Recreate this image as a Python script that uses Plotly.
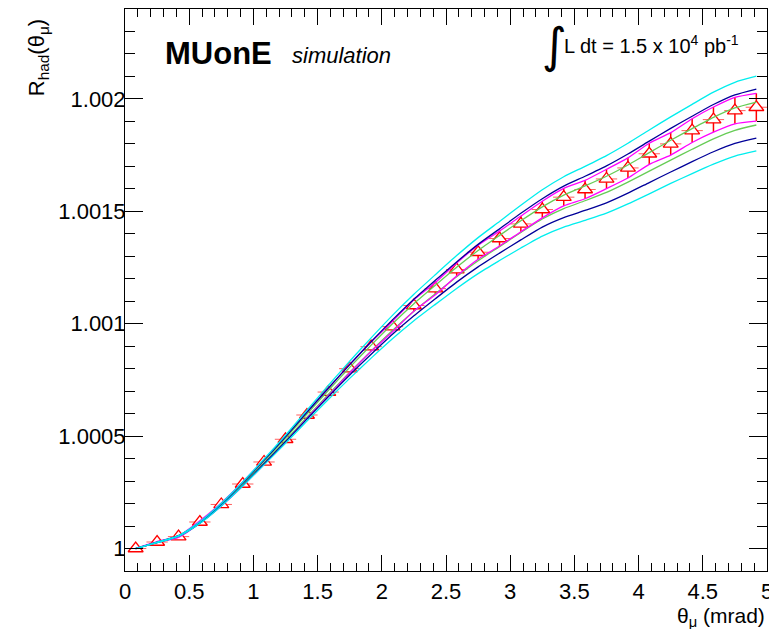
import plotly.graph_objects as go

UNIT = 1e-4  # curve/point values below are (R_had - 1) in units of 1e-4

# bin centres, theta_mu (mrad)
theta = [0.083, 0.250, 0.417, 0.583, 0.750, 0.917, 1.083, 1.250, 1.417, 1.583,
         1.750, 1.917, 2.083, 2.250, 2.417, 2.583, 2.750, 2.917, 3.083, 3.250,
         3.417, 3.583, 3.750, 3.917, 4.083, 4.250, 4.417, 4.583, 4.750, 4.917]
bin_half_width = [0.083] * 30

# pseudo-data points and their errors
data_val = [0.00, 0.29, 0.53, 1.18, 1.96, 2.87, 3.85, 4.86, 5.94, 6.96,
            8.00, 8.98, 9.87, 10.81, 11.56, 12.41, 13.18, 13.79, 14.44, 15.08,
            15.63, 15.97, 16.44, 16.93, 17.56, 18.00, 18.59, 19.08, 19.48, 19.63]
data_err = [0.01, 0.02, 0.03, 0.05, 0.07, 0.09, 0.11, 0.13, 0.15, 0.17,
            0.19, 0.21, 0.23, 0.25, 0.27, 0.29, 0.31, 0.33, 0.35, 0.37,
            0.39, 0.41, 0.43, 0.45, 0.47, 0.50, 0.53, 0.56, 0.59, 0.62]

# central fit curve and half widths of the bands
fit_center = [0.00, 0.27, 0.56, 1.15, 1.95, 2.87, 3.85, 4.86, 5.91, 6.94,
              7.95, 8.92, 9.85, 10.72, 11.52, 12.30, 13.03, 13.68, 14.32, 14.93,
              15.42, 15.80, 16.20, 16.68, 17.20, 17.72, 18.22, 18.70, 19.10, 19.35]
green_hw = [0.00, 0.00, 0.01, 0.01, 0.02, 0.03, 0.04, 0.05, 0.07, 0.09,
            0.11, 0.13, 0.15, 0.17, 0.19, 0.21, 0.23, 0.25, 0.26, 0.27,
            0.30, 0.33, 0.36, 0.38, 0.41, 0.44, 0.46, 0.48, 0.50, 0.51]
navy_hw = [0.00, 0.01, 0.01, 0.02, 0.04, 0.06, 0.08, 0.11, 0.15, 0.19,
           0.23, 0.28, 0.32, 0.37, 0.41, 0.45, 0.50, 0.54, 0.59, 0.63,
           0.70, 0.76, 0.82, 0.87, 0.92, 0.97, 1.01, 1.05, 1.08, 1.09]
cyan_hw = [0.00, 0.01, 0.02, 0.04, 0.06, 0.09, 0.13, 0.18, 0.24, 0.31,
           0.38, 0.45, 0.52, 0.59, 0.66, 0.73, 0.80, 0.87, 0.95, 1.03,
           1.12, 1.20, 1.28, 1.35, 1.42, 1.48, 1.54, 1.60, 1.64, 1.66]

x_tickvals = [0, 0.5, 1, 1.5, 2, 2.5, 3, 3.5, 4, 4.5, 5]
x_ticktext = ["0", "0.5", "1", "1.5", "2", "2.5", "3", "3.5", "4", "4.5", "5"]
y_tickvals = [1.0, 1.0005, 1.001, 1.0015, 1.002]
y_ticktext = ["1", "1.0005", "1.001", "1.0015", "1.002"]


def to_r(vals):
    return [1.0 + v * UNIT for v in vals]


def band(center, hw, sign):
    return [1.0 + (c + sign * h) * UNIT for c, h in zip(center, hw)]


FONT = "Liberation Sans, Arial, Helvetica, sans-serif"
fig = go.Figure()

# data points (drawn first, curves lie on top)
fig.add_trace(go.Scatter(
    x=theta, y=to_r(data_val), mode="markers",
    marker=dict(symbol="triangle-up", size=13, color="white",
                line=dict(color="red", width=1.3)),
    error_y=dict(type="data", array=[e * UNIT for e in data_err],
                 color="red", thickness=1.5, width=0),
    error_x=dict(type="data", array=bin_half_width,
                 color="rgba(255,40,40,0.75)", thickness=1, width=0),
    showlegend=False))

curves = [
    (green_hw, fit_center, "#66cc55"),
    (data_err, data_val, "#ff00ff"),
    (navy_hw, fit_center, "#000099"),
    (cyan_hw, fit_center, "#00eeee"),
]
for hw, cen, col in curves:
    for s in (1, -1):
        fig.add_trace(go.Scatter(
            x=theta, y=band(cen, hw, s), mode="lines",
            line=dict(color=col, width=1.3, shape="spline", smoothing=0.6),
            showlegend=False, hoverinfo="skip"))

axis_common = dict(
    showgrid=False, zeroline=False, showline=True, linecolor="black",
    linewidth=1, mirror="allticks", ticks="inside", tickcolor="black",
    tickwidth=1, tickfont=dict(family=FONT, size=22, color="black"),
)
fig.update_xaxes(range=[0, 5], tickmode="array", tickvals=x_tickvals,
                 ticktext=x_ticktext, ticklen=16, ticklabelstandoff=1,
                 minor=dict(ticks="inside", tickmode="linear", tick0=0,
                            dtick=0.1, ticklen=8, tickcolor="black",
                            tickwidth=1),
                 **axis_common)
fig.update_yaxes(range=[0.9999, 1.0024], tickmode="array",
                 tickvals=y_tickvals, ticktext=y_ticktext, ticklen=18,
                 ticklabelstandoff=-6,
                 minor=dict(ticks="inside", tickmode="linear", tick0=1.0,
                            dtick=0.0001, ticklen=10, tickcolor="black",
                            tickwidth=1),
                 **axis_common)

annotations = [
    dict(text="MUonE", x=0.0592, y=0.921, xanchor="left", yanchor="middle",
         font=dict(family=FONT, size=31, color="black", weight="bold")),
    dict(text="<i>simulation</i>", x=0.257, y=0.917, xanchor="left",
         yanchor="middle", font=dict(family=FONT, size=22, color="black")),
    dict(text="∫", x=0.669, y=0.936, xanchor="center", yanchor="middle",
         font=dict(family="DejaVu Sans", size=48, color="black")),
    dict(text="L dt = 1.5 x 10<sup>4</sup> pb<sup>-1</sup>", x=0.680,
         y=0.936, xanchor="left", yanchor="middle",
         font=dict(family=FONT, size=20, color="black")),
    dict(text="θ<sub>μ</sub> (mrad)", x=1.0, y=-0.081, xanchor="right",
         yanchor="middle", font=dict(family=FONT, size=21, color="black")),
    dict(text="R<sub>had</sub>(θ<sub>μ</sub>)", x=-0.135, y=0.985,
         xanchor="center", yanchor="top", textangle=-90,
         font=dict(family=FONT, size=22, color="black")),
]
for a in annotations:
    a.update(xref="paper", yref="paper", showarrow=False)

# the page adds an 8px body margin, so the figure is 8px smaller
fig.update_layout(
    annotations=annotations,
    width=769, height=621,
    margin=dict(l=117, r=10, t=1, b=58),
    plot_bgcolor="white", paper_bgcolor="white",
)

fig.write_html("out.html")
